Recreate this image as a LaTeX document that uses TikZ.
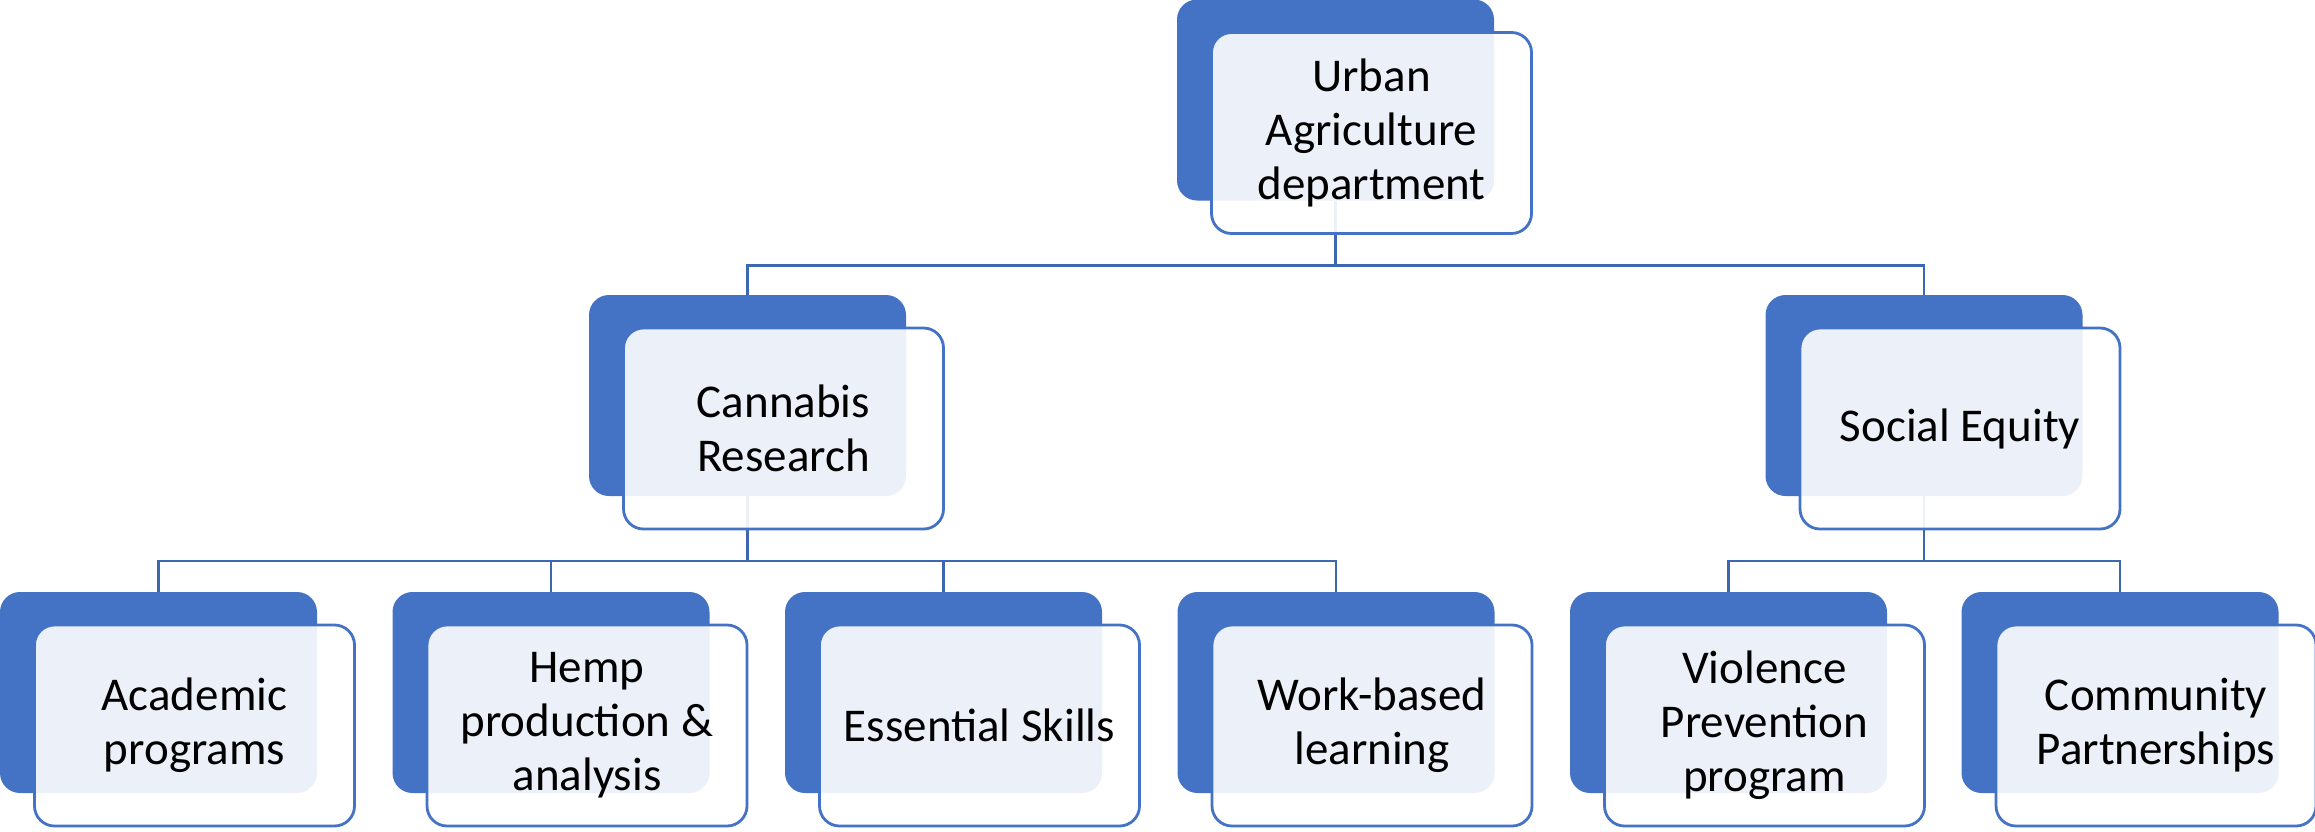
\documentclass[tikz,border=0pt]{standalone}
\usepackage{fontspec}
\setmainfont{Carlito}
\definecolor{acc}{HTML}{4472C4}
\definecolor{lnk}{HTML}{3E67B1}
\begin{document}
\begin{tikzpicture}[x=1pt,y=-1pt,
 darkbox/.style={rectangle, rounded corners=20pt, fill=acc, minimum width=317pt, minimum height=201pt, inner sep=0pt, outer sep=0pt},
 lightbox/.style={rectangle, rounded corners=20pt, draw=acc, line width=2.8pt, fill=white, fill opacity=0.9, text opacity=1, minimum width=320pt, minimum height=201pt, inner sep=0pt, outer sep=0pt, align=center, font=\fontsize{47}{54}\selectfont, text=black},
 conn/.style={draw=lnk, line width=2.8pt}]
\useasboundingbox (0,0) rectangle (2315,831);
% dark boxes
\node[darkbox] (top-d) at (1335.5,100) {};
\node[darkbox] (cr-d) at (747.5,395.5) {};
\node[darkbox] (se-d) at (1924,395.5) {};
\node[darkbox] (ap-d) at (158.5,692.5) {};
\node[darkbox] (hp-d) at (551,692.5) {};
\node[darkbox] (es-d) at (943.5,692.5) {};
\node[darkbox] (wb-d) at (1336,692.5) {};
\node[darkbox] (vp-d) at (1728.5,692.5) {};
\node[darkbox] (cp-d) at (2120,692.5) {};
% connectors
\draw[conn] (top-d.south) -- ++(0,65) -| (cr-d.north);
\draw[conn] (top-d.south) -- ++(0,65) -| (se-d.north);
\draw[conn] (cr-d.south) -- ++(0,65) -| (ap-d.north);
\draw[conn] (cr-d.south) -- ++(0,65) -| (hp-d.north);
\draw[conn] (cr-d.south) -- ++(0,65) -| (es-d.north);
\draw[conn] (cr-d.south) -- ++(0,65) -| (wb-d.north);
\draw[conn] (se-d.south) -- ++(0,65) -| (vp-d.north);
\draw[conn] (se-d.south) -- ++(0,65) -| (cp-d.north);
% light boxes
\node[lightbox] (top) at (1371.5,133) {Urban\\Agriculture\\department};
\node[lightbox] (cr) at (783.5,428.5) {Cannabis\\Research};
\node[lightbox] (se) at (1960,428.5) {Social Equity};
\node[lightbox] (ap) at (194.5,725.5) {Academic\\programs};
\node[lightbox] (hp) at (587,725.5) {Hemp\\production \&\\analysis};
\node[lightbox] (es) at (979.5,725.5) {Essential Skills};
\node[lightbox] (wb) at (1372,725.5) {Work-based\\learning};
\node[lightbox] (vp) at (1764.5,725.5) {Violence\\Prevention\\program};
\node[lightbox] (cp) at (2156,725.5) {Community\\Partnerships};
\end{tikzpicture}
\end{document}
